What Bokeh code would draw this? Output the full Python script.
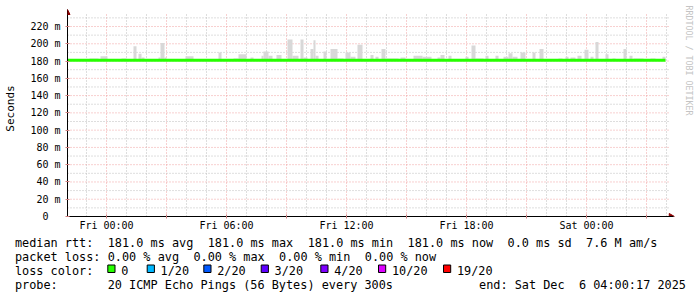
import math
from bokeh.plotting import figure
from bokeh.layouts import column
from bokeh.models import Range1d, FixedTicker, Arrow, NormalHead
from bokeh.core.properties import value
from bokeh.embed import file_html
from bokeh.resources import INLINE

# ---------------- data ----------------
x_tick_hours = [0, 6, 12, 18, 24]                      # hours after Fri 00:00
x_tick_labels = ["Fri 00:00", "Fri 06:00", "Fri 12:00", "Fri 18:00", "Sat 00:00"]
y_tick_ms = [0, 20, 40, 60, 80, 100, 120, 140, 160, 180, 200, 220]
y_tick_labels = ["0\u00a0\u00a0", "20 m", "40 m", "60 m", "80 m", "100 m", "120 m",
                 "140 m", "160 m", "180 m", "200 m", "220 m"]

series_start_h = -1.95
series_end_h = 27.95
median_ms = 181.0

smoke_start_h = [-0.85, -0.3, 0.75, 1.35, 1.6, 1.75, 2.6, 2.7, 2.9, 3.95, 5.6, 6.35, 6.6,
                 7.2, 7.75, 7.85, 8.1, 8.5, 9.05, 9.3, 9.7, 9.85, 10.2, 10.35, 10.45,
                 10.85, 11.2, 11.55, 11.95, 12.2, 12.55, 13.2, 13.45, 13.75, 13.95, 14.7,
                 15.35, 15.8, 16.55, 16.7, 17.1, 17.95, 18.25, 18.45, 18.95, 19.45, 19.85,
                 20.1, 20.3, 20.7, 21.3, 21.65, 22.6, 22.95, 23.2, 23.55, 23.9, 24.2,
                 24.45, 24.95, 25.3, 25.85, 26.15, 26.35, 27.2, 27.8]
smoke_end_h = [-0.4, 0.05, 1.0, 1.5, 1.75, 1.9, 2.7, 2.9, 3.0, 4.35, 5.75, 6.6, 7.0,
               7.35, 7.85, 8.1, 8.3, 8.75, 9.3, 9.6, 9.85, 10.05, 10.35, 10.45, 10.6,
               11.0, 11.55, 11.85, 12.2, 12.45, 12.8, 13.35, 13.6, 13.95, 14.6, 14.95,
               15.8, 16.25, 16.7, 16.9, 17.25, 18.1, 18.45, 18.85, 19.1, 19.6, 20.1,
               20.3, 20.55, 20.95, 21.45, 21.85, 22.8, 23.1, 23.45, 23.75, 24.1, 24.35,
               24.6, 25.1, 25.45, 26.0, 26.3, 26.85, 27.45, 27.95]
smoke_top_ms = [183, 185.5, 183, 197, 188.5, 184, 184, 201, 184, 185.5, 190, 183, 188,
                184, 186, 191, 186, 187, 205, 186, 205, 184, 194, 204, 186,
                191, 194, 183, 190, 185, 199, 187, 185, 194, 183, 184,
                186, 185, 184, 187, 186, 185, 198, 183, 186, 186, 185,
                189, 185, 190, 190, 194, 183, 185, 184, 186, 193, 185,
                202, 188, 183, 194, 186, 183, 183, 185]

rtt_stats = [("avg", 181.0), ("max", 181.0), ("min", 181.0), ("now", 181.0)]
rtt_sd = 0.0
am_per_s = 7.6
loss_stats = [("avg", 0.00), ("max", 0.00), ("min", 0.00), ("now", 0.00)]
loss_labels = ["0", "1/20", "2/20", "3/20", "4/20", "10/20", "19/20"]
loss_colors = ["#26ff00", "#00b8ff", "#0059ff", "#5e00ff", "#7e00ff", "#dd00ff", "#ff0000"]
probe_text = "20 ICMP Echo Pings (56 Bytes) every 300s"
end_text = ["end: Sat Dec", "6 04:00:17 2025"]
watermark = "RRDTOOL / TOBI OETIKER"

# ---------------- layout ----------------
W = 697
H_TOP = 234
FL, FB = 67, 216          # frame left, frame bottom (canvas px)
AXIS_RIGHT = 673          # end of x axis (arrow tip)
PX_PER_H = 20.0
PX_PER_MS = 190.0 / 220.0
x0 = -1.95
x_end = x0 + (W - FL) / PX_PER_H
y_end = FB / PX_PER_MS


def h_at(px):
    return x0 + (px - FL) / PX_PER_H


def ms_at(py):
    return (FB - py) / PX_PER_MS


MONO = "DejaVu Sans Mono"

p = figure(width=W, height=H_TOP, output_backend="svg", toolbar_location=None,
           x_range=Range1d(x0, x_end), y_range=Range1d(0, y_end),
           min_border_left=FL, min_border_right=0,
           min_border_top=0, min_border_bottom=H_TOP - FB)
p.outline_line_color = None
p.background_fill_color = "white"
p.border_fill_color = "white"
p.xgrid.visible = False
p.ygrid.visible = False

# grid
grid_top_ms = ms_at(13)
grid_right_h = h_at(668)
minor_h = [h for h in range(-1, 29) if h % 3 != 0]
major_h = [h for h in range(0, 28, 3)]
p.segment(x0=minor_h, x1=minor_h, y0=[0] * len(minor_h), y1=[grid_top_ms] * len(minor_h),
          line_color="#bdbdbd", line_dash="1 2", line_width=1)
p.segment(x0=major_h, x1=major_h, y0=[0] * len(major_h), y1=[grid_top_ms] * len(major_h),
          line_color="#f0a0a0", line_dash="1 2", line_width=1)
minor_ms = list(range(10, 240, 20))
major_ms = [v for v in y_tick_ms if v > 0]
p.segment(x0=[x0] * len(minor_ms), x1=[grid_right_h] * len(minor_ms), y0=minor_ms, y1=minor_ms,
          line_color="#bdbdbd", line_dash="1 2", line_width=1)
p.segment(x0=[x0] * len(major_ms), x1=[grid_right_h] * len(major_ms), y0=major_ms, y1=major_ms,
          line_color="#f0a0a0", line_dash="1 2", line_width=1)

# smoke
p.quad(left=smoke_start_h, right=smoke_end_h, bottom=[median_ms] * len(smoke_top_ms),
       top=smoke_top_ms, fill_color="#d8d8d8", line_color=None)

# median line
p.line([series_start_h, series_end_h], [median_ms, median_ms], line_color=loss_colors[0],
       line_width=3)

# axes
p.xaxis.ticker = FixedTicker(ticks=major_h, minor_ticks=list(range(-1, 29)))
p.xaxis.major_label_overrides = {h: (x_tick_labels[x_tick_hours.index(h)] if h in x_tick_hours else "")
                                 for h in major_h}
p.xaxis.bounds = (x0, h_at(AXIS_RIGHT))
p.yaxis.ticker = FixedTicker(ticks=y_tick_ms, minor_ticks=minor_ms)
p.yaxis.major_label_overrides = dict(zip(y_tick_ms, y_tick_labels))
p.yaxis.bounds = (0, ms_at(9))
for ax in (p.xaxis[0], p.yaxis[0]):
    ax.axis_line_color = "black"
    ax.axis_line_width = 1
    ax.major_tick_in = 2
    ax.major_tick_out = 2
    ax.minor_tick_in = 0
    ax.minor_tick_out = 0
    ax.major_tick_line_color = "#d08080"
    ax.minor_tick_line_color = None
    ax.major_label_text_font = MONO
    ax.major_label_text_font_size = "10px"
    ax.major_label_text_color = "#000000"
p.xaxis.major_label_standoff = 1
p.yaxis.major_label_standoff = 5
p.yaxis.axis_label = "Seconds"
p.yaxis.axis_label_text_font = MONO
p.yaxis.axis_label_text_font_size = "11px"
p.yaxis.axis_label_text_font_style = "normal"
p.yaxis.axis_label_text_color = "#000000"
p.yaxis.axis_label_standoff = 10

# axis arrows
ARROW_C = "#8b0000"
p.add_layout(Arrow(end=NormalHead(size=5, fill_color=ARROW_C, line_color=ARROW_C),
                   x_start=x0, y_start=ms_at(16), x_end=x0, y_end=ms_at(9),
                   line_alpha=0))
p.scatter([h_at(AXIS_RIGHT - 2.5)], [0], marker="triangle", angle=-math.pi / 2, size=6,
          fill_color=ARROW_C, line_color=ARROW_C)

# watermark (inside the frame, right of the data area)
p.text([h_at(688)], [ms_at(5)], text=[watermark], angle=-math.pi / 2,
       text_font=value(MONO), text_font_size="8.3px", text_color="#c4c4c4",
       text_align="left", text_baseline="middle")

# ---------------- legend panel ----------------
H_BOT = 297 - H_TOP
q = figure(width=W, height=H_BOT, output_backend="svg", toolbar_location=None,
           x_range=Range1d(0, W), y_range=Range1d(297, H_TOP),
           x_axis_type=None, y_axis_type=None,
           min_border_left=0, min_border_right=0, min_border_top=0, min_border_bottom=0)
q.outline_line_color = None
q.background_fill_color = "white"
q.border_fill_color = "white"
q.xgrid.visible = False
q.ygrid.visible = False

for fig in (p, q):
    try:
        fig.frame_align = False
    except Exception:
        pass

CW = 7.14
X0 = 14.4
ROW_Y = [242, 256, 270, 284]   # text baselines (canvas px)


def colx(c):
    return X0 + c * CW


tx, ty, tt = [], [], []


def put(s, x, y):
    tx.append(x)
    ty.append(y)
    tt.append(s)


segs = ["median rtt:"] + [f"{v:.1f} ms {k}" for k, v in rtt_stats] + \
       [f"{rtt_sd:.1f} ms sd", f"{am_per_s:.1f} M am/s"]
col = 0
for i, s in enumerate(segs):
    put(s, colx(col), ROW_Y[0])
    col = 13 if i == 0 else col + len(s) + 2

segs = ["packet loss:"] + [f"{v:.2f} % {k}" for k, v in loss_stats]
col = 0
for i, s in enumerate(segs):
    put(s, colx(col), ROW_Y[1])
    col = 13 if i == 0 else col + len(s) + 2

put("loss color:", colx(0), ROW_Y[2])
key_x = [107.3, 146.7, 203.3, 260.7, 320.3, 378.0, 443.0]
for kx, lab in zip(key_x, loss_labels):
    put(lab, kx + 13.4, ROW_Y[2])
q.quad(left=key_x, right=[k + 7.2 for k in key_x], top=[ROW_Y[2] - 5.5] * len(key_x),
       bottom=[ROW_Y[2] + 2.0] * len(key_x), fill_color=loss_colors, line_color="black",
       line_width=1)

put("probe:", colx(0), ROW_Y[3])
put(probe_text, colx(13), ROW_Y[3])
put(end_text[0], colx(65), ROW_Y[3])
put(end_text[1], colx(79), ROW_Y[3])

q.text(tx, ty, text=tt, text_font=value(MONO), text_font_size="11.85px",
       text_color="#000000", text_align="left", text_baseline="alphabetic")

layout = column(p, q, spacing=0)
open("out.html", "w").write(file_html(layout, INLINE))
